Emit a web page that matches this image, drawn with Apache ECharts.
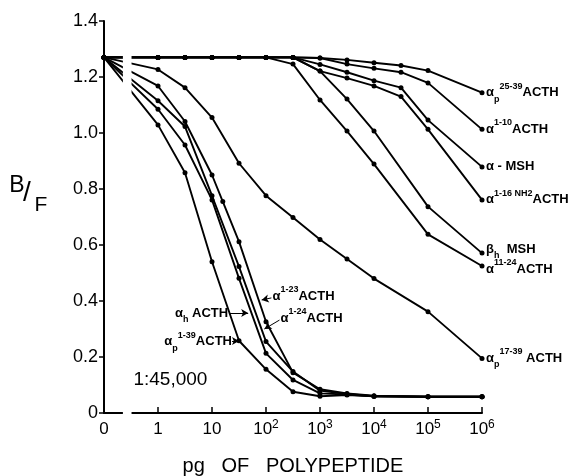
<!DOCTYPE html>
<html><head><meta charset="utf-8">
<script src="https://cdn.jsdelivr.net/npm/echarts@6/dist/echarts.min.js"></script>
<style>html,body{margin:0;padding:0;background:#fff}#c{width:584px;height:476px}</style>
</head><body><div id="c"></div>
<script>
// x positions are log10(pg); -1 stands for the zero-dose point ("0")
const doseLog = [-1, 0, 0.5, 1, 1.2, 1.5, 2, 2.5, 3, 3.5, 4, 4.5, 5, 6];
const xTickLabels = {'-1':'0','0':'1','1':'10','2':'10^2','3':'10^3','4':'10^4','5':'10^5','6':'10^6'};
const yTickLabels = {'0':'0','0.2':'0.2','0.4':'0.4','0.6':'0.6','0.8':'0.8','1':'1.0','1.2':'1.2','1.4':'1.4'};

const aP2539 = [1.27, 1.27, 1.27, 1.27, null, 1.27, 1.27, 1.27, 1.268, 1.261, 1.251, 1.241, 1.223, 1.144];
const a110   = [1.27, 1.27, 1.27, 1.27, null, 1.27, 1.27, 1.27, 1.268, 1.246, 1.231, 1.217, 1.179, 1.013];
const aMSH   = [1.27, 1.27, 1.27, 1.27, null, 1.27, 1.27, 1.27, 1.245, 1.217, 1.187, 1.162, 1.046, 0.879];
const a116   = [1.27, 1.27, 1.27, 1.27, null, 1.27, 1.27, 1.27, 1.221, 1.196, 1.168, 1.130, 1.013, 0.761];
const bhMSH  = [1.27, 1.27, 1.27, 1.27, null, 1.27, 1.27, 1.27, 1.221, 1.121, 1.007, null, 0.737, 0.571];
const a1124  = [1.27, 1.27, 1.27, 1.27, null, 1.27, 1.27, 1.246, 1.118, 1.007, 0.889, null, 0.638, 0.525];
const aP1739 = [1.27, 1.227, 1.162, 1.055, null, 0.892, 0.776, 0.698, 0.620, 0.550, 0.480, null, 0.362, 0.195];
const a123   = [1.27, 1.168, 1.041, 0.850, 0.755, 0.612, 0.326, 0.144, 0.085, 0.070, 0.062, null, 0.058, 0.058];
const a124   = [1.27, 1.115, 1.023, 0.776, null, 0.523, 0.255, 0.148, 0.080, 0.068, 0.060, null, 0.058, 0.058];
const ahACTH = [1.27, 1.085, 0.957, 0.761, null, 0.481, 0.213, 0.118, 0.070, 0.066, 0.060, null, 0.058, 0.058];
const aP139  = [1.27, 1.029, 0.858, 0.540, null, 0.258, 0.156, 0.076, 0.060, 0.064, 0.060, null, 0.058, 0.058];

const seriesList = [
  {name:'αp 25-39 ACTH', y:aP2539, end:'{a|α}{sb|p}{sp|25-39}{a|ACTH}', dy:0},
  {name:'α 1-10 ACTH', y:a110, end:'{a|α}{sp|1-10}{a|ACTH}', dy:0},
  {name:'α-MSH', y:aMSH, end:'{a|α - MSH}', dy:0},
  {name:'α 1-16 NH2 ACTH', y:a116, end:'{a|α}{sp|1-16 NH}{s2|2}{a|ACTH}', dy:0},
  {name:'βh MSH', y:bhMSH, end:'{a|β}{sb|h}{a|  MSH}', dy:-4},
  {name:'α 11-24 ACTH', y:a1124, end:'{a|α}{sp|11-24}{a|ACTH}', dy:3},
  {name:'αp 17-39 ACTH', y:aP1739, end:'{a|α}{sb|p}{sp|17-39}{a| ACTH}', dy:0},
  {name:'α 1-23 ACTH', y:a123, end:null},
  {name:'α 1-24 ACTH', y:a124, end:null},
  {name:'αh ACTH', y:ahACTH, end:null},
  {name:'αp 1-39 ACTH', y:aP139, end:null}
];

const FONT = 'Liberation Sans';
const labRich = {
  a:{fontFamily:FONT, fontSize:13, fontWeight:'bold', color:'#000', lineHeight:22},
  sp:{fontFamily:FONT, fontSize:9, fontWeight:'bold', color:'#000', lineHeight:10, verticalAlign:'top'},
  sb:{fontFamily:FONT, fontSize:9, fontWeight:'bold', color:'#000', lineHeight:10, verticalAlign:'bottom'},
  s2:{fontFamily:FONT, fontSize:9, fontWeight:'bold', color:'#000', lineHeight:15, verticalAlign:'top'}
};

// annotation arrows (data coords) for the steep curves
const arrows = [
  [[1.32, 0.357], [1.67, 0.357]],
  [[1.37, 0.257], [1.50, 0.257]],
  [[2.10, 0.411], [1.92, 0.404]],
  [[2.25, 0.332], [1.97, 0.300]]
];
const gapRange = [-0.65, -0.49];

const series = seriesList.map((s, i) => {
  const o = {
    type:'line', name:s.name,
    data: doseLog.map((x, k) => [x, s.y[k]]),
    connectNulls:true,
    symbol:'circle', symbolSize:5, showAllSymbol:true,
    lineStyle:{color:'#000', width:1.9},
    itemStyle:{color:'#000'},
    z:3
  };
  if (s.end) {
    o.endLabel = {show:true, formatter:s.end, rich:labRich, distance:4, offset:[0, s.dy]};
  }
  return o;
});
series[0].markLine = {
  silent:true, symbol:['none','arrow'], symbolSize:[6,7],
  label:{show:false},
  lineStyle:{color:'#000', width:1, type:'solid'},
  data: arrows.map(a => [{coord:a[0]}, {coord:a[1]}])
};
series.push({
  type:'custom', z:10, silent:true, clip:false,
  data:[[gapRange[0], gapRange[1]]],
  renderItem:(params, api) => {
    const p1 = api.coord([api.value(0), 1.36]);
    const p2 = api.coord([api.value(1), -0.02]);
    return {type:'rect', shape:{x:p1[0], y:p1[1], width:p2[0]-p1[0], height:p2[1]-p1[1]}, style:{fill:'#fff'}};
  }
});

const option = {
  animation:false,
  backgroundColor:'#fff',
  grid:{left:104, right:102, top:21, bottom:63},
  xAxis:{
    type:'value', min:-1, max:6, interval:1,
    axisLine:{onZero:false, lineStyle:{color:'#000', width:2}},
    axisTick:{inside:true, length:6, lineStyle:{color:'#000', width:1.5}},
    splitLine:{show:false},
    axisLabel:{
      margin:6, color:'#000',
      formatter:v => {
        const t = xTickLabels[String(v)] || '';
        if (t.indexOf('^') >= 0) { const p = t.split('^'); return '{m|' + p[0] + '}{s|' + p[1] + '}'; }
        return '{m|' + t + '}';
      },
      rich:{
        m:{fontFamily:FONT, fontSize:17, color:'#000', lineHeight:20},
        s:{fontFamily:FONT, fontSize:12, color:'#000', lineHeight:12, verticalAlign:'top'}
      }
    }
  },
  yAxis:{
    type:'value', min:0, max:1.4, interval:0.2,
    axisLine:{show:true, onZero:false, lineStyle:{color:'#000', width:2}},
    axisTick:{show:true, length:5, lineStyle:{color:'#000', width:1.5}},
    splitLine:{show:false},
    axisLabel:{
      margin:6, color:'#000', fontFamily:FONT, fontSize:18,
      formatter:v => yTickLabels[String(Math.round(v*10)/10)] || ''
    }
  },
  series: series
};

const chart = echarts.init(document.getElementById('c'), null, {renderer:'canvas'});
chart.setOption(option);

function px(x, y) { return chart.convertToPixel({seriesIndex:0}, [x, y]); }
const annRich = labRich;
const pH = px(1.30, 0.357), p139 = px(1.37, 0.255), p123 = px(2.12, 0.418), p124 = px(2.27, 0.339);
const pRatio = px(-0.455, 0.118);
const mid = px(2.5, 0);
chart.setOption({
  graphic:[
    {type:'text', x:pH[0], y:pH[1], style:{text:'{a|α}{sb|h}{a| ACTH}', rich:annRich, align:'right', verticalAlign:'middle'}},
    {type:'text', x:p139[0], y:p139[1], style:{text:'{a|α}{sb|p}{sp|1-39}{a|ACTH}', rich:annRich, align:'right', verticalAlign:'middle'}},
    {type:'text', x:p123[0], y:p123[1], style:{text:'{a|α}{sp|1-23}{a|ACTH}', rich:annRich, align:'left', verticalAlign:'middle'}},
    {type:'text', x:p124[0], y:p124[1], style:{text:'{a|α}{sp|1-24}{a|ACTH}', rich:annRich, align:'left', verticalAlign:'middle'}},
    {type:'text', x:pRatio[0], y:pRatio[1], style:{text:'1:45,000', fontFamily:FONT, fontSize:19, fill:'#000', align:'left', verticalAlign:'middle'}},
    {type:'text', x:mid[0], y:466, style:{text:'pg   OF   POLYPEPTIDE', fontFamily:FONT, fontSize:20, fill:'#000', align:'center', verticalAlign:'middle'}},
    {type:'text', x:17, y:186, style:{text:'B', fontFamily:FONT, fontSize:23, fill:'#000', align:'center', verticalAlign:'middle'}},
    {type:'text', x:27, y:193, style:{text:'/', fontFamily:FONT, fontSize:28, fill:'#000', align:'center', verticalAlign:'middle'}},
    {type:'text', x:41, y:205, style:{text:'F', fontFamily:FONT, fontSize:21, fill:'#000', align:'center', verticalAlign:'middle'}}
  ]
});
</script></body></html>
